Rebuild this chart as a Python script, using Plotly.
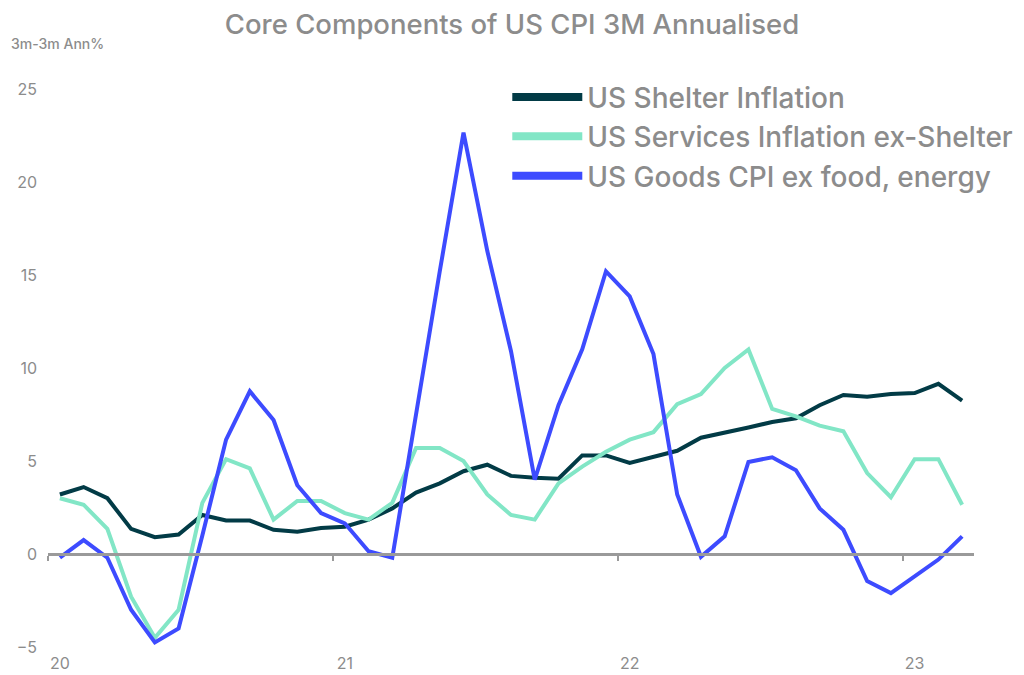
import plotly.graph_objects as go

# Monthly data, Jan 2020 .. Mar 2023 (39 months)
months = list(range(39))
year_ticks = ["20", "21", "22", "23"]
year_tick_pos = [0, 12, 24, 36]

shelter = [3.2, 3.6, 3.0, 1.35, 0.9, 1.05, 2.1, 1.8, 1.8, 1.3, 1.2, 1.4,
           1.47, 1.85, 2.45, 3.3, 3.8, 4.45, 4.8, 4.2, 4.1, 4.05, 5.3, 5.3,
           4.9, 5.25, 5.55, 6.25, 6.5, 6.8, 7.1, 7.3, 8.0, 8.55, 8.45, 8.6,
           8.65, 9.15, 8.25]

services = [3.0, 2.65, 1.35, -2.3, -4.5, -3.0, 2.75, 5.1, 4.6, 1.85, 2.85, 2.85,
            2.2, 1.85, 2.75, 5.7, 5.7, 5.0, 3.2, 2.1, 1.85, 3.8, 4.7, 5.5,
            6.15, 6.55, 8.05, 8.6, 10.0, 11.0, 7.8, 7.4, 6.9, 6.6, 4.35, 3.05,
            5.1, 5.1, 2.65]

goods = [-0.2, 0.75, -0.2, -3.0, -4.75, -4.0, 1.0, 6.15, 8.75, 7.2, 3.7, 2.2,
         1.65, 0.15, -0.2, 7.6, 15.2, 22.65, 16.3, 10.9, 4.0, 8.0, 11.0, 15.2,
         13.85, 10.75, 3.2, -0.15, 0.95, 4.95, 5.2, 4.5, 2.45, 1.3, -1.45, -2.1,
         -1.2, -0.3, 0.95]

names = ["US Shelter Inflation", "US Services Inflation ex-Shelter",
         "US Goods CPI ex food, energy"]
colors = ["#023B46", "#82E6C6", "#3D4BFF"]
series = [shelter, services, goods]

GREY = "#8C8C8C"
FONT = "Inter"

fig = go.Figure()
for name, col, vals in zip(names, colors, series):
    fig.add_trace(go.Scatter(x=months, y=vals, mode="lines", name=name,
                             line=dict(color=col, width=4), showlegend=False))
# legend-only entries with thicker sample lines
for name, col in zip(names, colors):
    fig.add_trace(go.Scatter(x=[None], y=[None], mode="lines", name=name,
                             line=dict(color=col, width=8), showlegend=True))
# helper trace so the zero-crossing axis is drawn
fig.add_trace(go.Scatter(x=[None], y=[None], xaxis="x2", showlegend=False,
                         hoverinfo="skip"))

fig.update_layout(
    width=1024, height=675,
    margin=dict(l=40, r=58, t=81, b=36, autoexpand=False),
    plot_bgcolor="white", paper_bgcolor="white",
    font=dict(family=FONT, color=GREY),
    title=dict(text="Core Components of US CPI 3M Annualised",
               x=(512 - 8) / 1024, xanchor="center", y=1 - 16 / 675,
               yanchor="middle",
               font=dict(size=27.5, color=GREY, family=FONT, weight=500)),
    xaxis=dict(range=[-0.5, 38.5], tickvals=year_tick_pos, ticktext=year_ticks,
               showgrid=False, zeroline=False, showline=False, ticks="",
               automargin=False, ticklabelstandoff=5,
               tickfont=dict(size=16, color=GREY)),
    xaxis2=dict(range=[-0.5, 38.5], overlaying="x", anchor="free",
                position=5 / 30, showgrid=False, zeroline=False,
                showline=True, linecolor="#9A9A9A", linewidth=2.5,
                tickvals=[p - 0.5 for p in year_tick_pos], ticks="outside",
                ticklen=5, tickwidth=2, tickcolor="#9A9A9A",
                showticklabels=False, automargin=False),
    yaxis=dict(range=[-5, 25], tickvals=[-5, 0, 5, 10, 15, 20, 25],
               showgrid=False, zeroline=False, showline=False, ticks="",
               ticklabelstandoff=10, automargin=False,
               tickfont=dict(size=16, color=GREY)),
    legend=dict(x=0.496, xanchor="left", y=1.03, yanchor="top",
                font=dict(size=28, color=GREY, family=FONT, weight=500),
                itemwidth=70, tracegroupgap=0, bgcolor="rgba(0,0,0,0)"),
    annotations=[dict(text="3m-3m Ann%", xref="paper", yref="paper",
                      x=-39 / 926, y=(647 - 43) / 558, xanchor="left",
                      yanchor="middle", showarrow=False,
                      font=dict(size=14, color=GREY, family=FONT, weight=500))],
)

fig.write_html("out.html")
